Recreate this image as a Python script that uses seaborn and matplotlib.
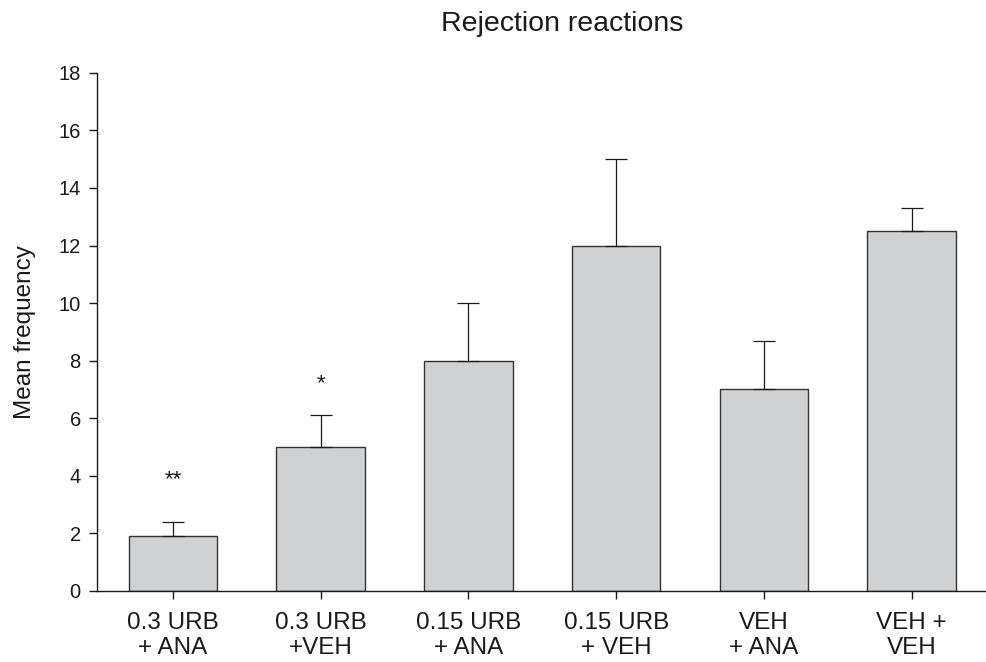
import numpy as np
import pandas as pd
import matplotlib
matplotlib.use("Agg")
import matplotlib.pyplot as plt
import seaborn as sns

# ---- data ----
groups = ["0.3 URB\n+ ANA", "0.3 URB\n+VEH", "0.15 URB\n+ ANA",
          "0.15 URB\n+ VEH", "VEH\n+ ANA", "VEH +\nVEH"]
means = [1.9, 5.0, 8.0, 12.0, 7.0, 12.5]
err_upper = [0.5, 1.1, 2.0, 3.0, 1.7, 0.8]
signif = ["**", "*", "", "", "", ""]
signif_y = [3.85, 7.2, None, None, None, None]
yticks = list(range(0, 19, 2))

df = pd.DataFrame({"group": groups, "mean": means})

sns.set_theme(style="ticks")
plt.rcParams["font.family"] = ["Liberation Sans", "DejaVu Sans"]

fig = plt.figure(figsize=(9.87, 6.62), dpi=100)
ax = fig.add_axes([0.098, 0.1073, 0.902, 0.7827])

sns.barplot(data=df, x="group", y="mean", order=groups, color="#d0d1d3",
            width=0.6, edgecolor="#333333", linewidth=1.0, errorbar=None,
            saturation=1, ax=ax)

pos = np.arange(len(groups))
ax.errorbar(pos, means, yerr=[np.zeros(len(means)), err_upper], fmt="none",
            ecolor="#1a1a1a", elinewidth=0.9, capsize=8, capthick=0.9, zorder=1)

for p, s, sy in zip(pos, signif, signif_y):
    if s:
        ax.text(p, sy, s, ha="center", va="center", fontsize=16, color="#1a1a1a")

ax.set_xlim(-0.516, 5.51)
ax.set_ylim(0, 18)
ax.set_yticks(yticks)
ax.set_yticklabels([str(t) for t in yticks])
ax.set_xlabel("")
ax.set_ylabel("Mean frequency", fontsize=17.5, color="#1a1a1a")
ax.yaxis.set_label_coords(-0.0685, 0.5)
ax.tick_params(axis="both", direction="out", length=5.5, width=1.0, colors="#1a1a1a")
ax.tick_params(axis="y", labelsize=14.5, pad=6)
ax.tick_params(axis="x", labelsize=17.5, pad=10)
for lbl in ax.get_xticklabels():
    lbl.set_linespacing(1.15)

for side in ["top", "right"]:
    ax.spines[side].set_visible(False)
for side in ["left", "bottom"]:
    ax.spines[side].set_linewidth(1.0)
    ax.spines[side].set_color("#1a1a1a")

fig.text(562 / 987, 1 - 31 / 662, "Rejection reactions", ha="center",
         va="baseline", fontsize=20.5, color="#1a1a1a")

fig.savefig("out.png", dpi=100, facecolor="white")
